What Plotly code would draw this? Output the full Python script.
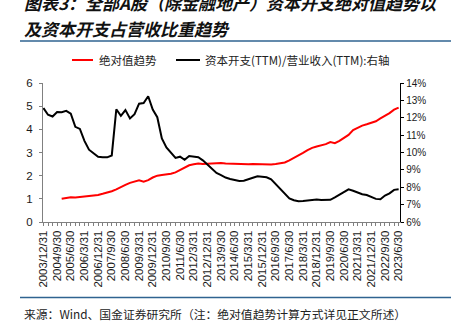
import pandas as pd
import plotly.graph_objects as go

# Quarter-end reporting dates, 2003Q4 - 2023Q2
quarters = [f"{d.year}/{d.month}/{d.day}"
            for d in pd.date_range("2003-12-31", "2023-06-30", freq="QE")]

# Absolute capex trend (left axis), available from 2004/12/31
abs_start = 4
abs_trend = [
    1.00, 1.03, 1.07, 1.06, 1.08, 1.09, 1.10, 1.12, 1.17, 1.22,
    1.27, 1.33, 1.41, 1.49, 1.60, 1.69, 1.76, 1.80, 1.74, 1.81,
    1.92, 2.00, 2.03, 2.05, 2.08, 2.14, 2.24, 2.35, 2.45, 2.49,
    2.52, 2.50, 2.52, 2.53, 2.55, 2.55, 2.53, 2.52, 2.50, 2.49,
    2.48, 2.49, 2.50, 2.49, 2.49, 2.49, 2.48, 2.50, 2.53, 2.57,
    2.66, 2.76, 2.87, 2.98, 3.10, 3.20, 3.26, 3.31, 3.36, 3.45,
    3.40, 3.50, 3.62, 3.76, 3.97, 4.08, 4.16, 4.22, 4.27, 4.35,
    4.47, 4.58, 4.70, 4.85, 4.94,
]

# Capex (TTM) / revenue (TTM), % (right axis)
capex_ratio = [
    12.56, 12.17, 12.07, 12.33, 12.32, 12.40, 12.23, 11.48, 11.36, 10.67,
    10.16, 9.95, 9.75, 9.72, 9.72, 9.83, 12.49, 12.11, 12.44, 11.96,
    12.21, 12.81, 12.85, 13.24, 12.47, 12.03, 10.81, 10.29, 10.00, 9.69,
    9.76, 9.58, 9.80, 9.76, 9.73, 9.55, 9.30, 9.05, 8.82, 8.70,
    8.56, 8.48, 8.42, 8.36, 8.38, 8.48, 8.55, 8.63, 8.62, 8.57,
    8.45, 8.18, 7.88, 7.58, 7.36, 7.25, 7.19, 7.21, 7.24, 7.30,
    7.30, 7.26, 7.26, 7.28, 7.42, 7.58, 7.75, 7.88, 7.80, 7.68,
    7.60, 7.55, 7.42, 7.33, 7.31, 7.52, 7.65, 7.85, 7.88,
]

left_ticks = [0, 1, 2, 3, 4, 5, 6]
right_ticks = [6, 7, 8, 9, 10, 11, 12, 13, 14]
right_labels = [f"{v}%" for v in right_ticks]

name_abs = "绝对值趋势"
name_ratio = "资本开支(TTM)/营业收入(TTM):右轴"
title_1 = "图表3：全部A股（除金融地产）资本开支绝对值趋势以"
title_2 = "及资本开支占营收比重趋势"
source = "来源：Wind、国金证券研究所（注：绝对值趋势计算方式详见正文所述）"

W, H = 451, 331
ML, MR, MT, MB = 43, 51, 83, 109
PW, PH = W - ML - MR, H - MT - MB


def px(x):
    return (x - ML) / PW


def py(y):
    return (H - MB - y) / PH


fig = go.Figure()
fig.add_trace(go.Scatter(
    x=quarters[abs_start:], y=abs_trend, name=name_abs, mode="lines",
    line=dict(color="#ff0000", width=2), yaxis="y", showlegend=False))
fig.add_trace(go.Scatter(
    x=quarters, y=capex_ratio, name=name_ratio, mode="lines",
    line=dict(color="#000000", width=2), yaxis="y2", showlegend=False))

sans = "Liberation Sans, Arial, sans-serif"

fig.update_layout(
    width=W, height=H, margin=dict(l=ML, r=MR, t=MT, b=MB, pad=0),
    paper_bgcolor="white", plot_bgcolor="white",
    xaxis=dict(
        type="category", categoryorder="array", categoryarray=quarters,
        range=[-0.1, len(quarters) - 0.7],
        tickmode="array", tickvals=quarters,
        ticktext=[q if k % 3 == 0 else "" for k, q in enumerate(quarters)],
        tickangle=-90, tickfont=dict(family=sans, size=11.4, color="#1a1a1a"),
        ticks="outside", ticklen=3, tickcolor="#808080", tickwidth=1,
        showline=True, linecolor="#808080", linewidth=1,
        showgrid=False, zeroline=False,
    ),
    yaxis=dict(
        range=[0, 6], tickmode="array", tickvals=left_ticks,
        tickfont=dict(family=sans, size=11.5, color="#1a1a1a"),
        ticks="outside", ticklen=3, tickcolor="#808080",
        ticklabelstandoff=4,
        showline=True, linecolor="#808080", linewidth=1,
        showgrid=False, zeroline=False,
    ),
    yaxis2=dict(
        range=[6, 14], tickmode="array", tickvals=right_ticks,
        ticktext=right_labels, overlaying="y", side="right",
        tickfont=dict(family=sans, size=10, color="#1a1a1a"),
        ticks="outside", ticklen=3, tickcolor="#000000",
        showline=True, linecolor="#000000", linewidth=1.3,
        showgrid=False, zeroline=False,
    ),
)

title_font = dict(family="Noto Sans CJK SC", size=17, color="#111111")
legend_font = dict(family="Noto Sans CJK SC", size=11.5, color="#222222")

annotations = [
    dict(text=f"<b><i>{title_1}</i></b>", x=px(22), y=py(2)),
    dict(text=f"<b><i>{title_2}</i></b>", x=px(22), y=py(28)),
]
for a in annotations:
    a.update(xref="paper", yref="paper", xanchor="left", yanchor="middle",
             showarrow=False, font=title_font)

annotations += [
    dict(text=name_abs, x=px(97), y=py(60), font=legend_font),
    dict(text=name_ratio, x=px(203), y=py(60), font=legend_font),
    dict(text=source, x=px(22), y=py(313),
         font=dict(family="Noto Sans CJK SC", size=11.8, color="#222222")),
]
for a in annotations[2:]:
    a.update(xref="paper", yref="paper", xanchor="left", yanchor="middle",
             showarrow=False)

shapes = [
    dict(type="line", x0=px(72), x1=px(93), y0=py(60), y1=py(60),
         line=dict(color="#ff0000", width=2)),
    dict(type="line", x0=px(176), x1=px(200), y0=py(60), y1=py(60),
         line=dict(color="#000000", width=2)),
    dict(type="line", x0=px(20), x1=px(451), y0=py(41), y1=py(41),
         line=dict(color="#2f6390", width=1.5)),
    dict(type="line", x0=px(20), x1=px(451), y0=py(297.5), y1=py(297.5),
         line=dict(color="#2f6390", width=1.5)),
]
for s in shapes:
    s.update(xref="paper", yref="paper")

fig.update_layout(annotations=annotations, shapes=shapes)

fig.write_html("out.html")
